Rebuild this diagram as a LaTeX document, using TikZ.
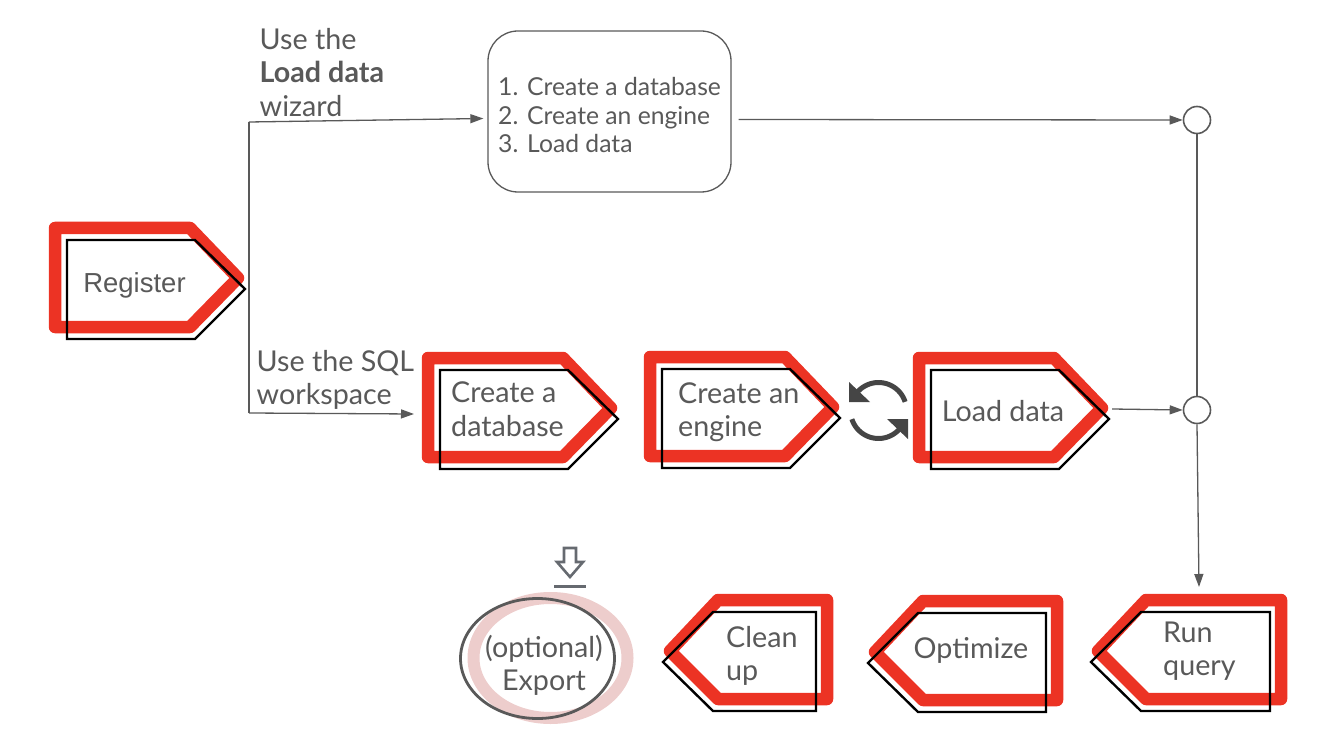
\documentclass[tikz,border=0pt]{standalone}
\usepackage{fontspec}
\setmainfont{Lato}
\newfontfamily\arialf{Liberation Sans}
\usetikzlibrary{arrows.meta,calc}
\definecolor{rd}{HTML}{EC3324}
\definecolor{gr}{HTML}{595959}
\definecolor{pk}{HTML}{EDCDCC}
\definecolor{ic}{HTML}{454545}
\definecolor{dl}{HTML}{666A70}
\newcommand{\fnt}{\fontsize{28.7}{33.5}\selectfont}
\tikzset{x=1pt,y=-1pt,
 redp/.style={draw=rd,line width=12.5pt,line join=round},
 blkp/.style={draw=black,line width=2.4pt,line join=miter},
 lbl/.style={text=gr,inner sep=0pt,align=left,font=\fnt},
 conn/.style={draw=gr,line width=1.3pt},
 arr/.style={conn,-{Triangle[length=13pt,width=9pt]}},
 ring/.style={circle,draw=gr,line width=1.6pt,minimum size=27pt,inner sep=0pt},
 syncarc/.style={draw=ic,line width=5pt,smooth,samples=24}}
\newcommand{\rtag}[2]{%
 \draw[redp,shift={(#1,#2)}] (55,228)--(190,228)--(238,278)--(190,327)--(55,327)--cycle;
 \draw[blkp,shift={(#1,#2)}] (67,240)--(195,240)--(245,289)--(195,339)--(67,339)--cycle;}
\newcommand{\ltag}[4]{%
 \draw[redp] (#2,#1)--({#3},#1)--({#3},{#1+99})--({#4+55},{#1+99})--({#4+7},{#1+51})--({#4+55},#1)--cycle;
 \draw[blkp] ({#3-11},{#1+12})--({#3-11},{#1+111})--({#4+50},{#1+111})--(#4,{#1+62})--({#4+50},{#1+12})--cycle;}
\begin{document}
\begin{tikzpicture}
\useasboundingbox (0,0) rectangle (1318,730);
\rtag{0}{0}
\rtag{373}{130}
\rtag{595}{129}
\rtag{864}{130}
\ltag{600}{827}{827}{663}
\ltag{601}{1057}{1057}{868}
\ltag{600}{1281}{1281}{1091}
\node[lbl,font=\arialf\fontsize{27.5}{33}\selectfont] (reg) at (134.5,285) {Register};
\node[lbl,anchor=west] (db) at (451,409) {Create a\\database};
\node[lbl,anchor=west] (eng) at (678,412) {Create an\\engine};
\node[lbl] (load) at (1003,411) {Load data};
\node[lbl,anchor=west] (clean) at (726,656) {Clean\\up};
\node[lbl] (opt) at (971,650) {Optimize};
\node[lbl,anchor=west] (run) at (1163,651) {Run\\query};
\draw[pk,line width=12pt] (550.5,658) ellipse [x radius=77,y radius=60];
\draw[gr,line width=2.8pt] (537.5,658.5) ellipse [x radius=77,y radius=60];
\node[lbl,align=center] (exp) at (544,665.5) {(optional)\\Export};
\node[draw=gr,line width=1.3pt,rounded corners=30pt,minimum width=243pt,minimum height=161pt] (box) at (609.5,111.5) {};
\node[lbl,anchor=west,font=\fontsize{24.7}{28.5}\selectfont] (boxt) at (498,115.5)
 {\makebox[29pt][l]{1.}Create a database\\\makebox[29pt][l]{2.}Create an engine\\\makebox[29pt][l]{3.}Load data};
\node[ring] (c1) at (1197,120) {};
\node[ring] (c2) at (1197,410) {};
\node[lbl,anchor=north west] (t1) at (259.5,28) {Use the\\\textbf{Load data}\\wizard};
\node[lbl,anchor=north west] (t2) at (256.5,350) {Use the SQL\\workspace};
\coordinate (jt) at (249,122);
\coordinate (jb) at (249,413);
\draw[conn] (jt)--(jb);
\draw[arr] (jt)--([shift={(-4,7)}]box.west);
\draw[arr] (jb)--(414,414) coordinate (dbin);
\draw[arr] ([shift={(7,8)}]box.east)--(c1.west);
\draw[arr] (1112,409) coordinate (lout)--(c2.west);
\draw[conn] (c1.south)--(c2.north);
\draw[arr] (c2.south)--(1199,587) coordinate (runin);
% sync icon
\draw[syncarc] plot[domain=18:148] ({878.5+28*cos(\x)},{410.5-28*sin(\x)});
\draw[syncarc] plot[domain=198:328] ({878.5+28*cos(\x)},{410.5-28*sin(\x)});
\fill[ic] (849,382)--(849,402)--(870,402)--cycle;
\fill[ic] (908,439)--(908,419)--(887,419)--cycle;
% export icon
\draw[dl,line width=2.6pt,line join=miter] (564,548)--(576,548)--(576,562)--(583,562)--(570,577)--(557,562)--(564,562)--cycle;
\draw[dl,line width=3pt] (554,586)--(586,586);
\end{tikzpicture}
\end{document}
